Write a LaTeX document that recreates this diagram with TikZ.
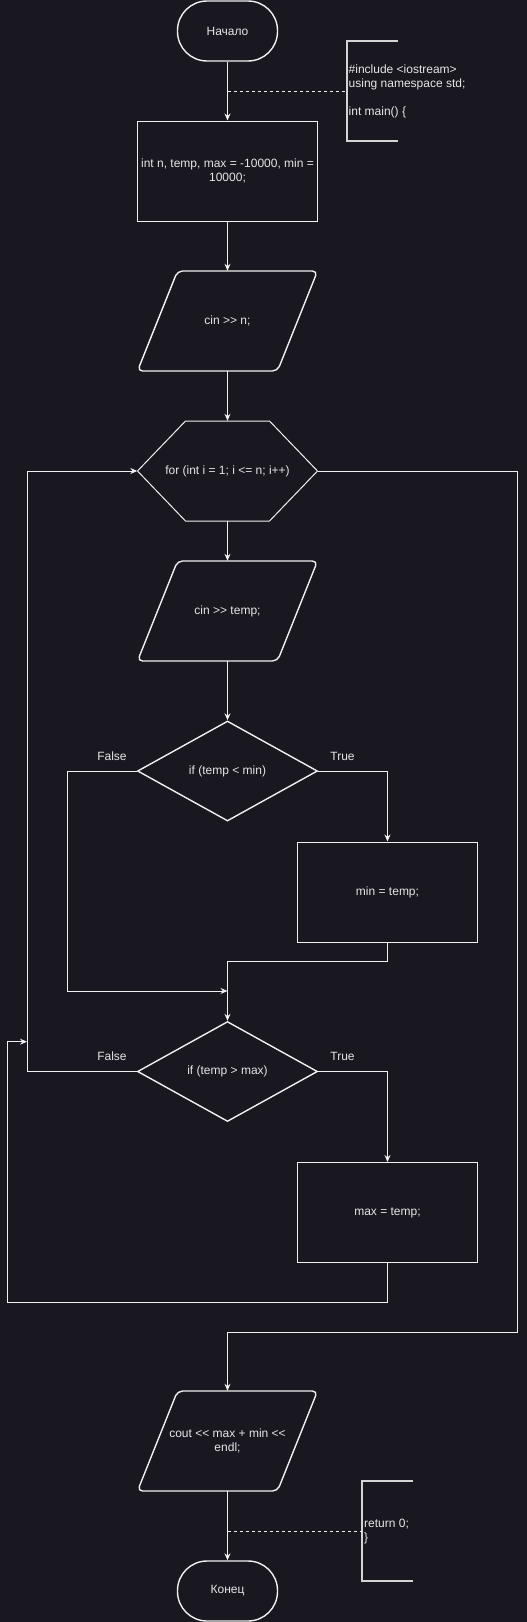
\documentclass[tikz,border=0pt]{standalone}
\usepackage{fontspec}
\setmainfont{Liberation Sans}
\usetikzlibrary{arrows.meta,shapes.geometric}
\definecolor{bg}{HTML}{19171F}
\definecolor{fg}{HTML}{F0F0F0}
\definecolor{tx}{HTML}{E6E6E6}
\definecolor{ann}{HTML}{D4D4D4}
\begin{document}
\begin{tikzpicture}[x=1pt,y=-1pt,
  every node/.style={font=\fontsize{12}{14}\selectfont, text=tx},
  term/.style={draw=fg, line width=1.4pt, rounded corners=29.5pt, minimum width=100pt, minimum height=60pt, inner sep=0pt},
  proc/.style={draw=fg, line width=1pt, minimum width=180pt, minimum height=100pt, inner sep=0pt, align=center},
  ghost/.style={minimum width=180pt, minimum height=100pt, inner sep=0pt, align=center},
  dec/.style={diamond, draw=fg, line width=1.4pt, minimum width=180pt, minimum height=100pt, inner sep=0pt, aspect=1.8},
  flow/.style={draw=fg, line width=1pt, -{Stealth[length=7pt,width=6pt]}},
  wire/.style={draw=fg, line width=1pt},
  note/.style={draw=fg, line width=0.9pt, dash pattern=on 3pt off 3pt},
  brk/.style={draw=ann, line width=2.2pt},
  shapeline/.style={draw=fg, line width=1.4pt, rounded corners=5pt},
  hexline/.style={draw=fg, line width=1pt},
]
\fill[bg] (0,0) rectangle (527,1622);
\useasboundingbox (0,0) rectangle (527,1622);

% nodes
\node[term] (start) at (227.5,31) {Начало};
\node[proc] (init) at (227.5,171) {int n, temp, max = -10000, min =\\10000;};
\node[ghost] (cinn) at (227.5,321) {cin {>}{>} n;};
\draw[shapeline, shift={(cinn.center)}] (-50,-50) -- (90,-50) -- (50,50) -- (-90,50) -- cycle;
\node[ghost] (loop) at (227.5,471) {for (int i = 1; i {<}= n; i++)};
\draw[hexline, shift={(loop.center)}] (-90,0) -- (-42,-50) -- (42,-50) -- (90,0) -- (42,50) -- (-42,50) -- cycle;
\node[ghost] (cint) at (227.5,611) {cin {>}{>} temp;};
\draw[shapeline, shift={(cint.center)}] (-50,-50) -- (90,-50) -- (50,50) -- (-90,50) -- cycle;
\node[dec] (if1) at (227.5,771) {if (temp {<} min)};
\node[proc] (min) at (387.5,892) {min = temp;};
\node[dec] (if2) at (227.5,1071.5) {if (temp {>} max)};
\node[proc] (max) at (387.5,1212.5) {max = temp;};
\node[ghost] (cout) at (227.5,1441) {cout {<}{<} max + min {<}{<}\\endl;};
\draw[shapeline, shift={(cout.center)}] (-50,-50) -- (90,-50) -- (50,50) -- (-90,50) -- cycle;
\node[term] (end) at (227.5,1591) {Конец};

% labels
\node (f1) at (112,756) {False};
\node (t1) at (342.5,756) {True};
\node (f2) at (112,1056) {False};
\node (t2) at (342.5,1056) {True};

% annotations
\draw[brk] (397.7,41) -- (346.7,41) -- (346.7,141) -- (397.7,141);
\node[anchor=west, align=left, inner sep=0pt] (note1) at (348.5,91) {\#include {<}iostream{>}\\using namespace std;\\[14pt]int main() \{};
\coordinate (a1) at (227.5,91);
\coordinate (b1) at (346.7,91);
\draw[note] (a1) -- (b1);

\draw[brk] (412.7,1481) -- (362.3,1481) -- (362.3,1581) -- (412.7,1581);
\node[anchor=west, align=left, inner sep=0pt] (note2) at (364,1532) {return 0;\\\}};
\coordinate (a2) at (227.5,1531);
\coordinate (b2) at (362.3,1531);
\draw[note] (a2) -- (b2);

% connectors
\draw[flow] (start.south) -- (init.north);
\draw[flow] (init.south) -- (cinn.north);
\draw[flow] (cinn.south) -- (loop.north);
\draw[flow] (loop.south) -- (cint.north);
\draw[flow] (cint.south) -- (if1.north);
\draw[flow] (if1.east) -| (min.north);
\coordinate (merge1) at (227.5,991);
\draw[flow] (if1.west) -| (67.5,991) -- (merge1);
\draw[flow] (min.south) -- (387.5,961) -| (if2.north);
\draw[flow] (if2.east) -| (max.north);
\draw[flow] (if2.west) -- (27,1071.5) |- (loop.west);
\coordinate (ret) at (27,1041.7);
\draw[flow] (max.south) -- (387.5,1302) -| (7.4,1041.7) -- (ret);
\draw[flow] (loop.east) -| (517.6,1332) -| (cout.north);
\draw[flow] (cout.south) -- (end.north);
\end{tikzpicture}
\end{document}
